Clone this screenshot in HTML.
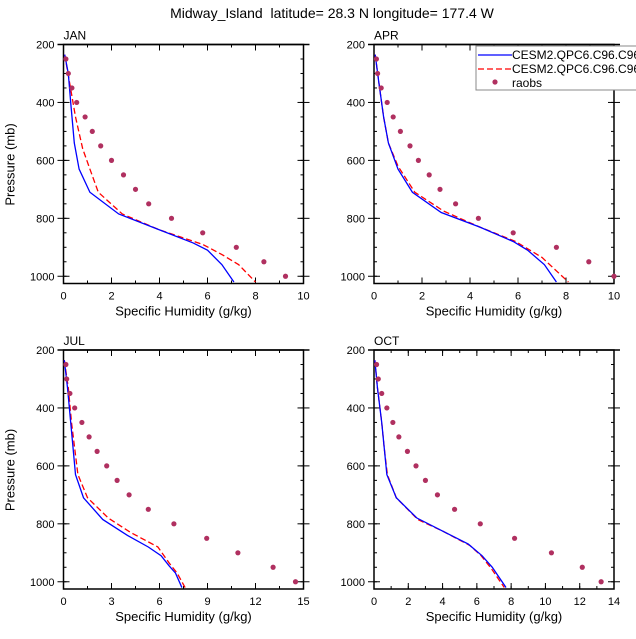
<!DOCTYPE html>
<html><head><meta charset="utf-8"><style>
body{margin:0;background:#fff;}
svg{display:block;font-family:"Liberation Sans",sans-serif;}
</style></head><body>
<svg id="chart" width="636" height="639">
<text x="332" y="18" font-size="14" text-anchor="middle" style="white-space:pre">Midway_Island  latitude= 28.3 N longitude= 177.4 W</text>
</svg>
<script>
const obsLevels=[250,300,350,400,450,500,550,600,650,700,750,800,850,900,950,1000];
const janObs=[0.1,0.2,0.35,0.55,0.9,1.2,1.55,2.0,2.5,3.0,3.55,4.5,5.8,7.2,8.35,9.25];
const aprObs=[0.1,0.15,0.3,0.55,0.8,1.1,1.5,1.85,2.3,2.75,3.4,4.35,5.8,7.6,8.95,10.0];
const julObs=[0.15,0.2,0.4,0.7,1.15,1.6,2.1,2.7,3.35,4.1,5.3,6.9,8.95,10.9,13.1,14.5];
const octObs=[0.15,0.25,0.45,0.75,1.1,1.45,1.95,2.45,3.0,3.7,4.7,6.2,8.2,10.35,12.15,13.25];
const janBlueP=[235,300,400,540,630,710,785,840,885,910,960,1020];
const janBlue=[0.05,0.2,0.3,0.45,0.65,1.1,2.3,4.0,5.4,6.0,6.6,7.1];
const janRedP=[235,330,450,560,630,710,785,840,890,925,960,1020];
const janRed=[0.05,0.25,0.5,0.8,1.1,1.45,2.45,4.0,5.8,6.6,7.3,8.0];
const aprBlueP=[235,330,450,540,630,710,780,830,880,910,960,1020];
const aprBlue=[0.05,0.2,0.4,0.6,1.0,1.6,2.8,4.4,5.8,6.4,7.1,7.6];
const aprRedP=[235,330,450,540,620,710,775,830,880,935,1020];
const aprRed=[0.05,0.2,0.4,0.6,1.0,1.7,2.9,4.4,5.9,7.0,8.1];
const julBlueP=[235,330,450,540,630,710,785,840,880,910,945,970,1020];
const julBlue=[0.05,0.25,0.45,0.6,0.75,1.25,2.45,4.0,5.3,6.1,6.6,7.0,7.4];
const julRedP=[235,330,450,540,630,710,780,830,880,935,970,1020];
const julRed=[0.05,0.3,0.5,0.7,0.9,1.5,2.8,4.2,5.9,6.6,7.1,7.6];
const octBlueP=[235,330,450,540,630,710,780,825,870,910,950,1020];
const octBlue=[0.05,0.2,0.45,0.6,0.75,1.3,2.5,4.0,5.5,6.3,6.9,7.7];
const octRedP=[235,330,450,540,630,710,785,825,875,910,955,1020];
const octRed=[0.05,0.2,0.45,0.6,0.78,1.3,2.55,4.0,5.6,6.25,6.85,7.6];
const janTicks=[0,2,4,6,8,10], aprTicks=[0,2,4,6,8,10], julTicks=[0,3,6,9,12,15], octTicks=[0,2,4,6,8,10,12,14];
const yTicks=[200,400,600,800,1000];

const NS="http://www.w3.org/2000/svg";
const svg=document.getElementById('chart');
function mk(t,a,p){const e=document.createElementNS(NS,t);for(const k in a)e.setAttribute(k,a[k]);(p||svg).appendChild(e);return e;}

function panel(name,L,T,xmax,xt,minorStep,obs,bP,b,rP,r,ytitle){
  const R=L+240,B=T+239;
  const x=v=>L+v/xmax*240;
  const y=p=>T+(p-200)/(1025-200)*239;
  const g=mk('g',{});
  
  
  const lbl=mk('text',{x:L,y:T-5,'font-size':12},g);lbl.textContent=name;
  
  
  for(let v=0;v<=xmax+1e-9;v+=minorStep){const X=x(v);
    mk('line',{x1:X,y1:B,x2:X,y2:B-3,stroke:'#000'},g);mk('line',{x1:X,y1:T,x2:X,y2:T+3,stroke:'#000'},g);}
  xt.forEach(v=>{const X=x(v);
    mk('line',{x1:X,y1:B,x2:X,y2:B-6,stroke:'#000'},g);mk('line',{x1:X,y1:T,x2:X,y2:T+6,stroke:'#000'},g);
    const t=mk('text',{x:X,y:B+16,'font-size':11,'text-anchor':'middle'},g);t.textContent=v;
    
    });
  for(let p=250;p<=1000;p+=50){const Y=y(p);
    mk('line',{x1:L,y1:Y,x2:L+3,y2:Y,stroke:'#000'},g);mk('line',{x1:R,y1:Y,x2:R-3,y2:Y,stroke:'#000'},g);}
  yTicks.forEach(p=>{const Y=y(p);
    mk('line',{x1:L-6,y1:Y,x2:L+6,y2:Y,stroke:'#000'},g);mk('line',{x1:R+6,y1:Y,x2:R-6,y2:Y,stroke:'#000'},g);
    const t=mk('text',{x:L-9,y:Y+4,'font-size':11,'text-anchor':'end'},g);t.textContent=p;
    
    });
  mk('line',{x1:L-6,y1:T,x2:R+6,y2:T,stroke:'#000','stroke-width':1.5},g);
  mk('rect',{x:L,y:T,width:240,height:239,fill:'none',stroke:'#000','stroke-width':1.5},g);
  const xtl=mk('text',{x:L+120,y:B+32,'font-size':13,'text-anchor':'middle'},g);xtl.textContent='Specific Humidity (g/kg)';
  
  
  if(ytitle){const yt=mk('text',{x:0,y:0,'font-size':13,'text-anchor':'middle',transform:`translate(${L-49},${T+120}) rotate(-90)`},g);yt.textContent='Pressure (mb)';
    
    }
  const cp='clip-'+name;const c=mk('clipPath',{id:cp},g);mk('rect',{x:L,y:T,width:240,height:239},c);
  const rl=mk('polyline',{points:r.map((v,i)=>x(v)+','+y(rP[i])).join(' '),fill:'none',stroke:'#f00','stroke-width':1.3,'stroke-dasharray':'6,3','clip-path':`url(#${cp})`},g);
  
  
  const bl=mk('polyline',{points:b.map((v,i)=>x(v)+','+y(bP[i])).join(' '),fill:'none',stroke:'#00f','stroke-width':1.3,'clip-path':`url(#${cp})`},g);
  
  
  obs.forEach((v,i)=>{const d=mk('circle',{cx:x(v),cy:y(obsLevels[i]),r:2.6,fill:'#b03060'},g);
    
    });
}
panel('JAN',63.5,44.5,10,janTicks,1,janObs,janBlueP,janBlue,janRedP,janRed,true);
panel('APR',374,44.5,10,aprTicks,1,aprObs,aprBlueP,aprBlue,aprRedP,aprRed,false);
panel('JUL',63.5,350,15,julTicks,1.5,julObs,julBlueP,julBlue,julRedP,julRed,true);
panel('OCT',374,350,14,octTicks,1,octObs,octBlueP,octBlue,octRedP,octRed,false);

const lg=mk('g',{});


mk('rect',{x:476,y:46,width:170,height:44,fill:'#fff',stroke:'#888','stroke-width':1},lg);
mk('line',{x1:478,y1:55,x2:512,y2:55,stroke:'#00f','stroke-width':1.3},lg);
mk('line',{x1:478,y1:69,x2:512,y2:69,stroke:'#f00','stroke-width':1.3,'stroke-dasharray':'6,3'},lg);
mk('circle',{cx:495,cy:82,r:2.6,fill:'#b03060'},lg);
const names=['CESM2.QPC6.C96.C96','CESM2.QPC6.C96.C96','raobs'];
names.forEach((n,i)=>{const t=mk('text',{x:512,y:59+i*14,'font-size':12},lg);t.textContent=n;
  
  });
</script>
</body></html>
